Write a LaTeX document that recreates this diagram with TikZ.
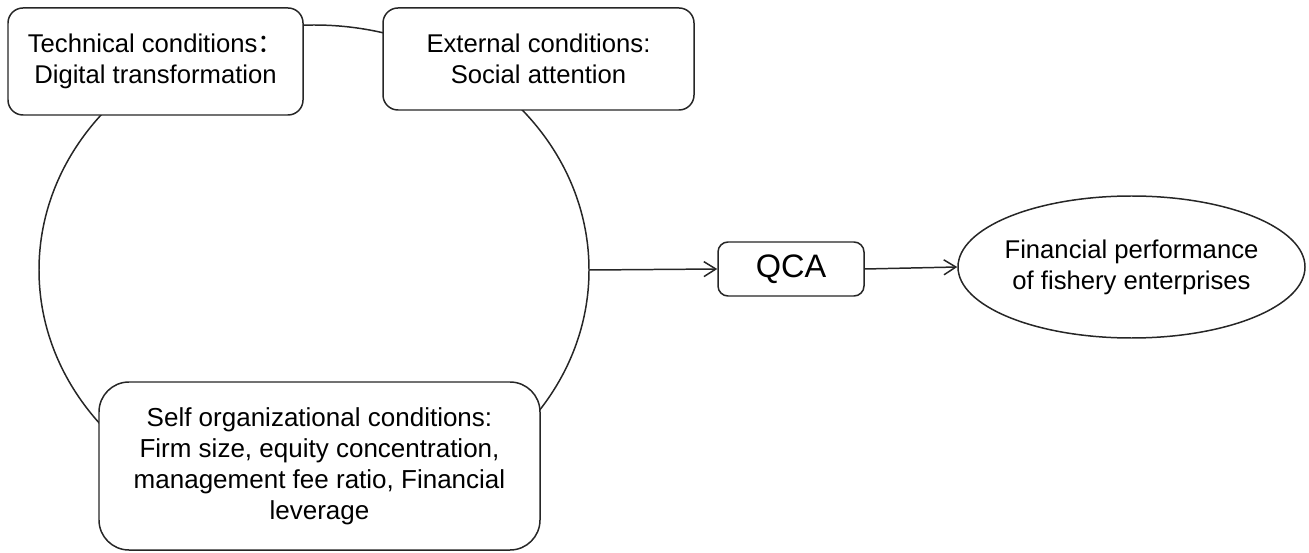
\documentclass[tikz,border=0pt]{standalone}
\usepackage{fontspec}
\setmainfont{Liberation Sans}
\newfontfamily\cjk{Noto Sans CJK SC}
\usetikzlibrary{shapes.geometric,arrows.meta}
\tikzset{
  base/.style={draw=black!85, line width=0.85pt, fill=white, align=center, inner sep=0pt,
    font=\fontsize{14.6}{17.5}\selectfont},
  condbox/.style={base, rounded corners=0.3cm},
  bigbox/.style={base, rounded corners=0.6cm, font=\fontsize{14.8}{17.6}\selectfont},
  qcabox/.style={base, rounded corners=0.2cm, font=\fontsize{18.5}{22}\selectfont},
  outcome/.style={base, ellipse, inner xsep=-1.5cm, inner ysep=-0.3cm},
  ringstyle/.style={draw=black!85, line width=0.85pt, ellipse, inner sep=0pt},
  flow/.style={draw=black!85, line width=0.85pt, -{Straight Barb[length=0.24cm, width=0.3cm, line width=0.85pt]}}
}
\begin{document}
\begin{tikzpicture}
\useasboundingbox (0,0) rectangle (26.18,-11.06);
\node[ringstyle, minimum width=11.0cm, minimum height=9.8cm] (ring) at (6.28,-5.40) {};
\node[condbox, minimum width=5.9cm, minimum height=2.14cm] (tech) at (3.11,-1.23)
  {Technical conditions{\cjk ：}\\Digital transformation};
\node[condbox, minimum width=6.22cm, minimum height=2.04cm] (ext) at (10.77,-1.18)
  {External conditions:\\Social attention};
\node[bigbox, minimum width=8.82cm, minimum height=3.36cm] (self) at (6.39,-9.32)
  {Self organizational conditions:\\Firm size, equity concentration,\\management fee ratio, Financial\\leverage};
\node[qcabox, minimum width=2.92cm, minimum height=1.08cm] (qca) at (15.82,-5.38) {QCA};
\node[outcome, minimum width=6.94cm, minimum height=2.84cm] (fin) at (22.63,-5.34)
  {Financial performance\\of fishery enterprises};
\draw[flow] (ring.east) -- (qca.west);
\draw[flow] (qca.east) -- (fin.west);
\end{tikzpicture}
\end{document}
